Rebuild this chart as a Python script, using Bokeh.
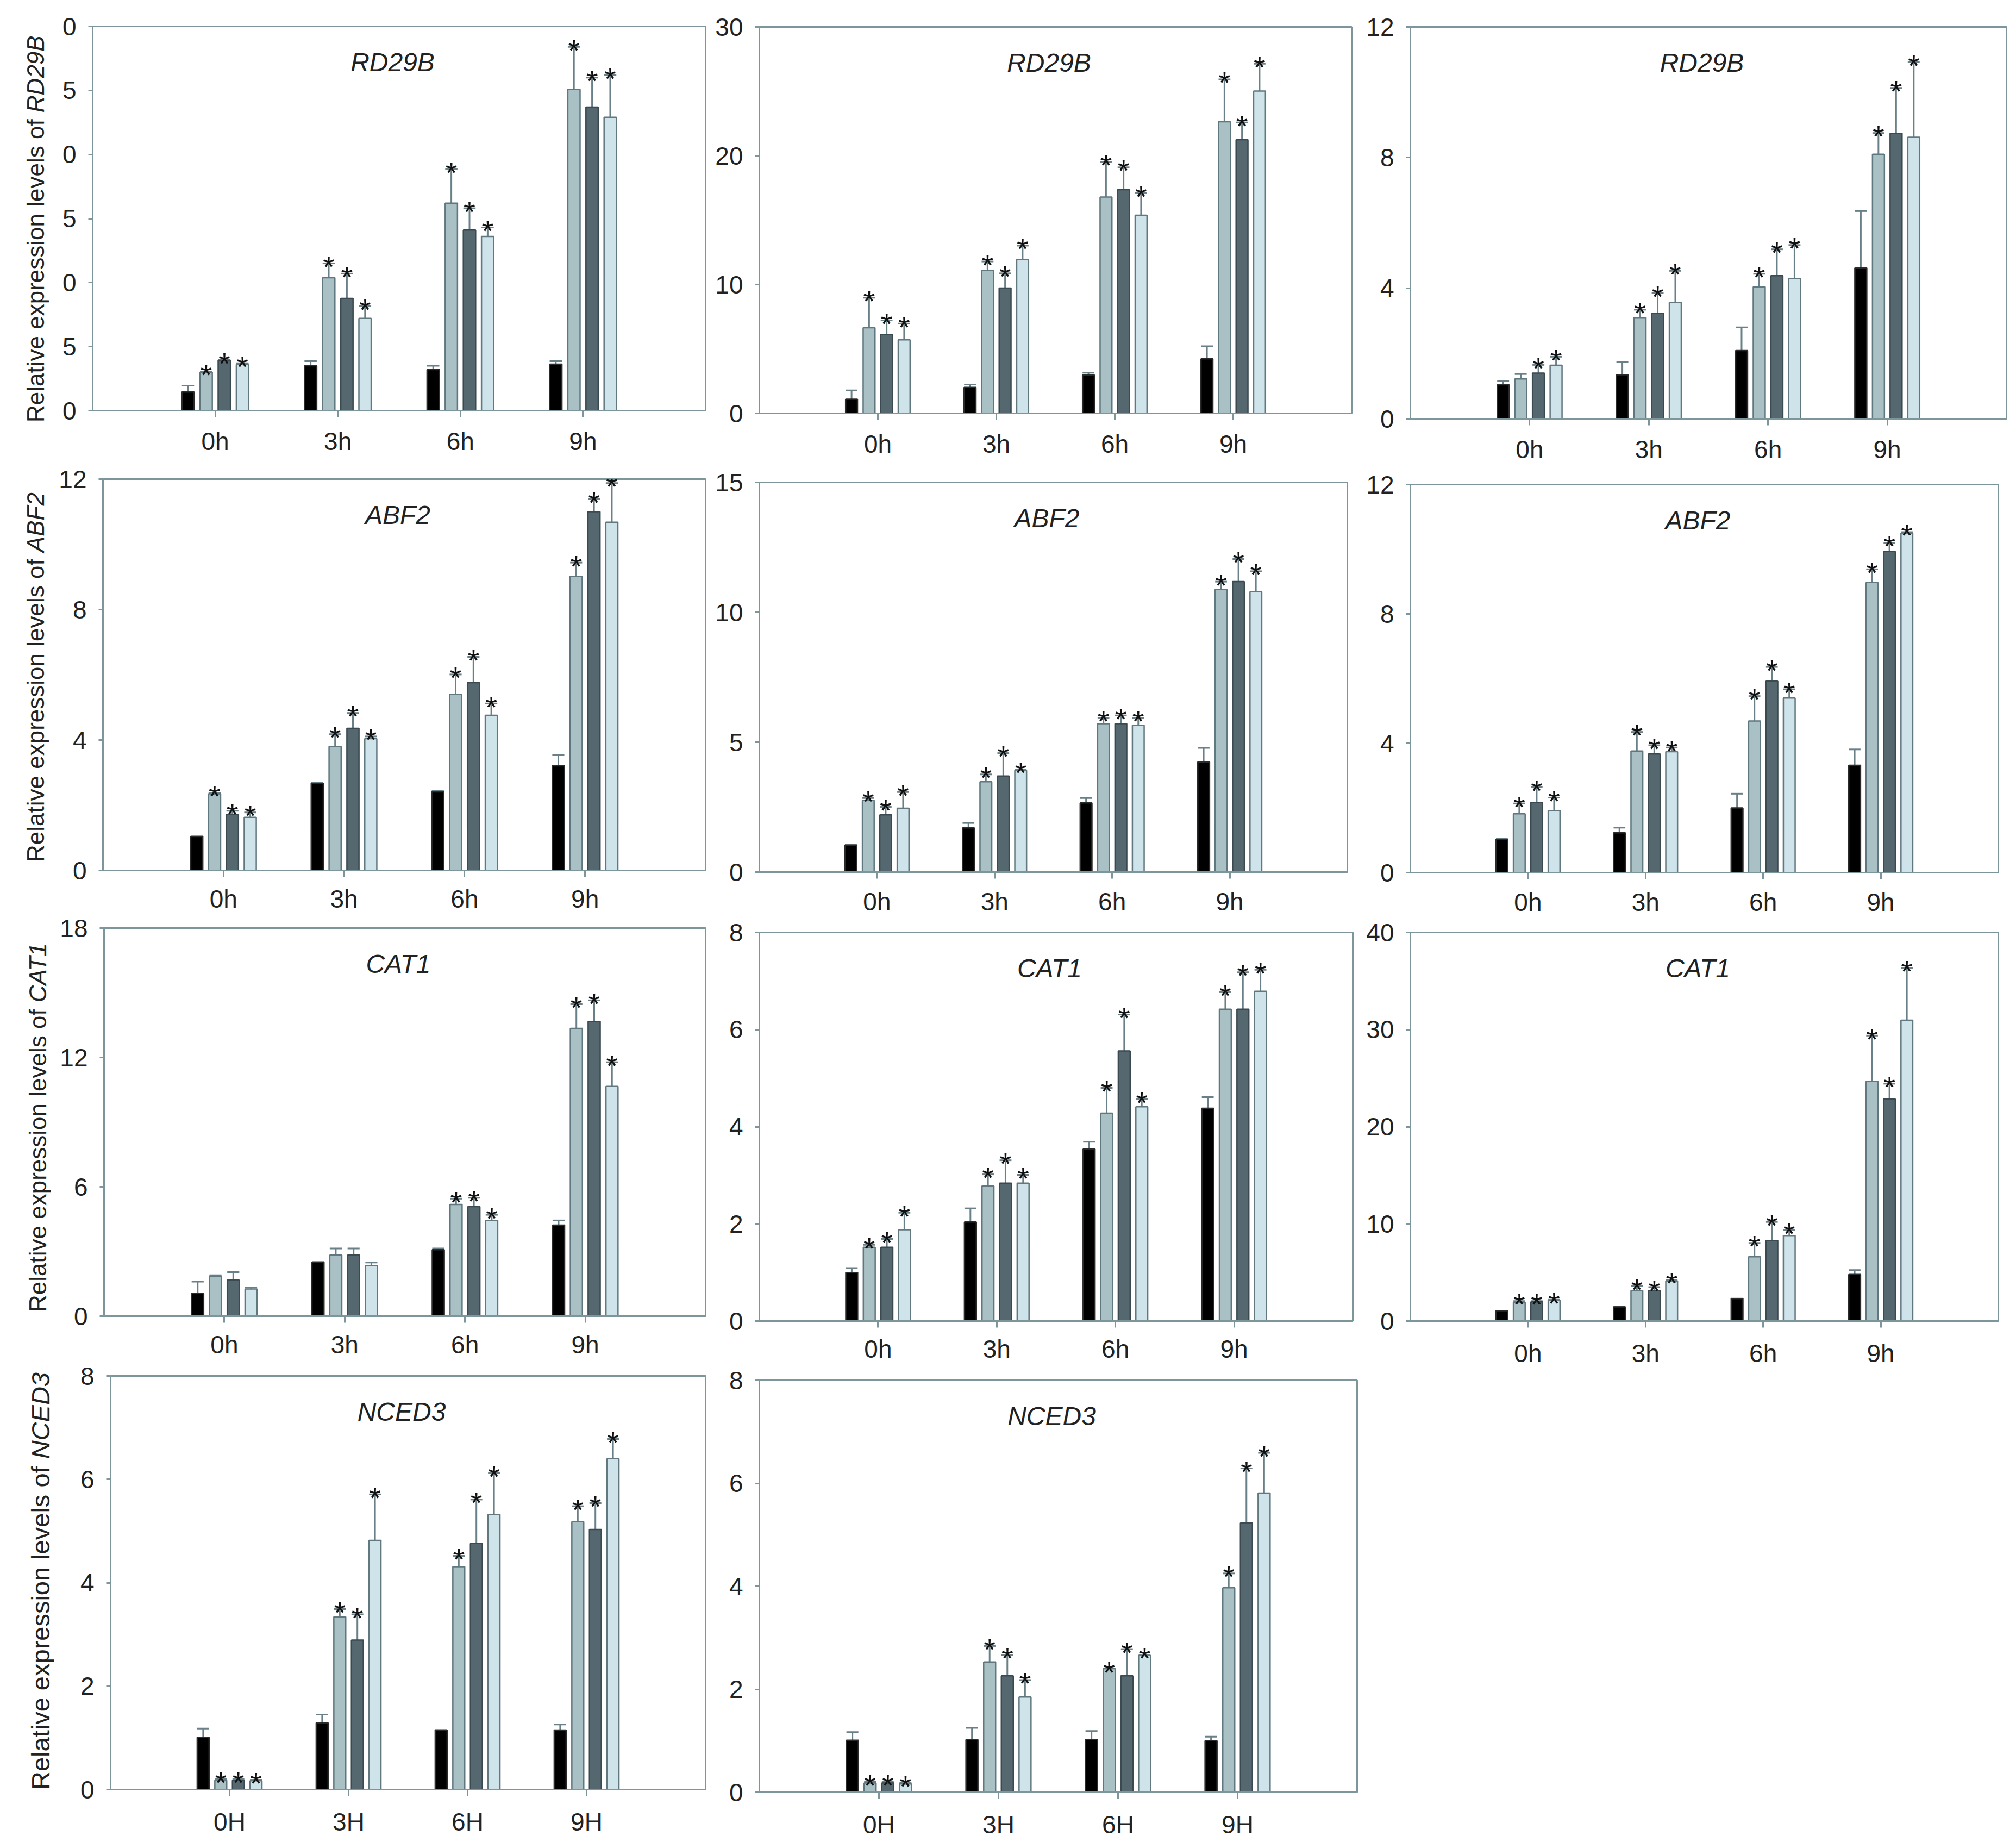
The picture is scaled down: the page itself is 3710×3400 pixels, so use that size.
from bokeh.plotting import figure
from bokeh.layouts import column, row
from bokeh.models import Range1d, FixedTicker, ColumnDataSource, Div
from bokeh.core.properties import value
from bokeh.embed import file_html
from bokeh.resources import INLINE

# 时间点
hours_lower = ["0h", "3h", "6h", "9h"]
hours_upper = ["0H", "3H", "6H", "9H"]

# 每组四个系列: 黑, 浅灰, 深灰, 淡蓝
# RD29B
rd29b_1_mean = [[1.45, 3.50, 3.20, 3.63], [3.00, 10.37, 16.20, 25.08],
                [3.93, 8.76, 14.10, 23.70], [3.60, 7.20, 13.60, 22.90]]
rd29b_1_err = [[0.50, 0.36, 0.30, 0.23], [0.05, 1.13, 2.65, 3.32],
               [0.02, 1.94, 1.70, 2.30], [0.10, 0.96, 0.70, 3.30]]
rd29b_1_yticks = [0, 5, 10, 15, 20, 25, 30]
rd29b_1_ylabels = ["0", "5", "0", "5", "0", "5", "0"]

rd29b_2_mean = [[1.10, 2.01, 2.97, 4.23], [6.65, 11.10, 16.79, 22.64],
                [6.12, 9.73, 17.36, 21.25], [5.71, 11.95, 15.38, 25.02]]
rd29b_2_err = [[0.68, 0.23, 0.18, 0.98], [2.33, 0.69, 2.74, 3.29],
               [1.10, 1.14, 1.74, 1.33], [1.26, 1.07, 1.71, 2.12]]
rd29b_2_yticks = [0, 10, 20, 30]

rd29b_3_mean = [[1.04, 1.35, 2.09, 4.62], [1.22, 3.10, 4.04, 8.10],
                [1.40, 3.23, 4.38, 8.74], [1.64, 3.56, 4.29, 8.62]]
rd29b_3_err = [[0.11, 0.39, 0.71, 1.74], [0.15, 0.24, 0.40, 0.65],
               [0.25, 0.62, 0.81, 1.39], [0.26, 0.97, 1.03, 2.30]]
rd29b_3_star = [[0, 0, 0, 0], [0, 1, 1, 1], [1, 1, 1, 1], [1, 1, 1, 1]]
rd29b_3_yticks = [0, 4, 8, 12]

# ABF2
abf2_1_mean = [[1.04, 2.67, 2.41, 3.21], [2.35, 3.80, 5.40, 9.02],
               [1.72, 4.36, 5.76, 11.00], [1.63, 4.04, 4.76, 10.68]]
abf2_1_err = [[0.00, 0.02, 0.03, 0.33], [0.03, 0.38, 0.61, 0.42],
              [0.11, 0.47, 0.79, 0.39], [0.15, 0.07, 0.36, 1.20]]
abf2_1_yticks = [0, 4, 8, 12]

abf2_2_mean = [[1.04, 1.70, 2.66, 4.24], [2.76, 3.48, 5.71, 10.88],
               [2.20, 3.70, 5.71, 11.18], [2.46, 3.91, 5.65, 10.79]]
abf2_2_err = [[0.00, 0.19, 0.19, 0.54], [0.09, 0.28, 0.23, 0.30],
              [0.31, 0.88, 0.32, 0.87], [0.62, 0.04, 0.29, 0.79]]
abf2_2_yticks = [0, 5, 10, 15]

abf2_3_mean = [[1.03, 1.23, 2.00, 3.32], [1.82, 3.76, 4.69, 8.97],
               [2.17, 3.67, 5.92, 9.93], [1.92, 3.74, 5.40, 10.50]]
abf2_3_err = [[0.03, 0.16, 0.44, 0.49], [0.32, 0.59, 0.77, 0.41],
              [0.47, 0.27, 0.44, 0.27], [0.40, 0.13, 0.27, 0.03]]
abf2_3_yticks = [0, 4, 8, 12]

# CAT1
cat1_1_mean = [[1.05, 2.51, 3.08, 4.22], [1.85, 2.83, 5.18, 13.35],
               [1.67, 2.83, 5.08, 13.67], [1.26, 2.35, 4.44, 10.66]]
cat1_1_err = [[0.55, 0.00, 0.06, 0.22], [0.05, 0.31, 0.27, 1.12],
              [0.37, 0.31, 0.41, 0.98], [0.07, 0.14, 0.26, 1.12]]
cat1_1_star = [[0, 0, 0, 0], [0, 0, 1, 1], [0, 0, 1, 1], [0, 0, 1, 1]]
cat1_1_yticks = [0, 6, 12, 18]

cat1_2_mean = [[1.00, 2.04, 3.54, 4.38], [1.52, 2.78, 4.28, 6.42],
               [1.52, 2.84, 5.56, 6.42], [1.88, 2.84, 4.41, 6.79]]
cat1_2_err = [[0.09, 0.28, 0.15, 0.23], [0.05, 0.24, 0.52, 0.35],
              [0.17, 0.47, 0.75, 0.76], [0.35, 0.17, 0.16, 0.44]]
cat1_2_yticks = [0, 2, 4, 6, 8]

cat1_3_mean = [[1.06, 1.46, 2.31, 4.80], [1.91, 3.13, 6.62, 24.67],
               [1.97, 3.13, 8.29, 22.85], [2.12, 4.13, 8.80, 30.96]]
cat1_3_err = [[0.00, 0.00, 0.00, 0.45], [0.15, 0.45, 1.42, 4.71],
              [0.09, 0.36, 1.91, 1.58], [0.08, 0.12, 0.55, 5.40]]
cat1_3_yticks = [0, 10, 20, 30, 40]

# NCED3
nced3_1_mean = [[1.01, 1.29, 1.15, 1.15], [0.18, 3.34, 4.31, 5.18],
                [0.18, 2.89, 4.76, 5.03], [0.17, 4.82, 5.32, 6.40]]
nced3_1_err = [[0.17, 0.16, 0.00, 0.11], [0.02, 0.15, 0.21, 0.30],
               [0.02, 0.50, 0.85, 0.51], [0.02, 0.89, 0.80, 0.38]]
nced3_1_yticks = [0, 2, 4, 6, 8]

nced3_2_mean = [[1.01, 1.02, 1.02, 1.00], [0.18, 2.53, 2.40, 3.97],
                [0.18, 2.26, 2.26, 5.23], [0.16, 1.85, 2.66, 5.81]]
nced3_2_err = [[0.16, 0.23, 0.17, 0.08], [0.02, 0.31, 0.00, 0.28],
               [0.02, 0.41, 0.52, 1.06], [0.02, 0.33, 0.01, 0.78]]
nced3_2_yticks = [0, 2, 4, 6, 8]

# 对照不标星, 其余全部显著
all_star = [[0, 0, 0, 0], [1, 1, 1, 1], [1, 1, 1, 1], [1, 1, 1, 1]]

FILL = ["#000000", "#a9c0c5", "#56686f", "#cfe3ea"]
EDGE = ["#2a2a2a", "#5f777e", "#3a4a50", "#62787f"]
FRAME = "#7d969c"
ERRC = "#6a8088"
FONT = "Liberation Sans"
YLAB = "Relative expression levels of"


def make_panel(gene, means, errs, stars, hours, yticks, box, ylabels=None):
    left, top, fw, fh, right, bottom = box
    ymax = yticks[-1]
    p = figure(frame_width=fw, frame_height=fh,
               min_border_left=left, min_border_top=top,
               min_border_right=right, min_border_bottom=bottom,
               x_range=Range1d(0, 5), y_range=Range1d(0, ymax),
               output_backend="svg", toolbar_location=None, tools="")
    p.grid.visible = False
    p.outline_line_color = FRAME
    p.outline_line_width = 3

    for ax in (p.xaxis[0], p.yaxis[0]):
        ax.axis_line_color = FRAME
        ax.axis_line_width = 3
        ax.major_tick_line_color = FRAME
        ax.major_tick_line_width = 3
        ax.major_tick_in = 0
        ax.minor_tick_line_color = None
        ax.major_label_text_font = FONT
        ax.major_label_text_font_size = "46px"
        ax.major_label_text_color = "#222222"

    p.xaxis.ticker = FixedTicker(ticks=[1, 2, 3, 4])
    p.xaxis.major_label_overrides = {i + 1: h for i, h in enumerate(hours)}
    p.xaxis.major_tick_out = 12
    # 留够底边空间, 不让边框被撑大
    p.xaxis.major_label_standoff = max(12, min(21, bottom - 68))

    p.yaxis.ticker = FixedTicker(ticks=yticks)
    p.yaxis.major_tick_out = 8
    p.yaxis.major_label_standoff = 22
    if ylabels:
        p.yaxis.major_label_overrides = dict(zip(yticks, ylabels))

    step, bw = 0.148, 0.1
    for k in range(4):
        xs = [g + 1 + (k - 1.5) * step for g in range(4)]
        tops = means[k]
        hi = [m + e for m, e in zip(tops, errs[k])]
        src = ColumnDataSource(dict(x=xs, top=tops, hi=hi,
                                    x0=[x - bw / 2 for x in xs],
                                    x1=[x + bw / 2 for x in xs]))
        p.segment(x0="x", y0="top", x1="x", y1="hi", source=src,
                  line_color=ERRC, line_width=3)
        p.segment(x0="x0", y0="hi", x1="x1", y1="hi", source=src,
                  line_color=ERRC, line_width=3)
        p.vbar(x="x", top="top", bottom=0, width=bw, source=src,
               fill_color=FILL[k], line_color=EDGE[k], line_width=2.5)
        sx = [x for x, s in zip(xs, stars[k]) if s]
        sy = [h for h, s in zip(hi, stars[k]) if s]
        if sx:
            p.text(x=sx, y=sy, text=["*"] * len(sx), y_offset=6,
                   text_align="center", text_baseline="alphabetic",
                   text_font=value(FONT), text_font_size="56px",
                   text_color="#111111")

    p.text(x=[2.5], y=[ymax], text=[gene], x_offset=-12, y_offset=66,
           text_align="center", text_baseline="middle",
           text_font=value(FONT), text_font_style="italic",
           text_font_size="48px", text_color="#222222")
    return p


def ylabel_div(gene, width, height, pad_top, pad_bottom, margin_left, size=44):
    # 竖排标签, 基因名斜体
    html = (
        '<div style="writing-mode:vertical-rl;transform:rotate(180deg);'
        f'box-sizing:border-box;height:{height}px;width:{size}px;'
        f'line-height:{size}px;padding-top:{pad_top}px;'
        f'padding-bottom:{pad_bottom}px;margin-left:{margin_left}px;'
        "text-align:center;white-space:nowrap;font-family:'Liberation Sans';"
        f'font-size:{size}px;color:#222222;">{YLAB} <i>{gene}</i></div>'
    )
    return Div(text=html, width=width, height=height, margin=0)


# 第一列
p1 = make_panel("RD29B", rd29b_1_mean, rd29b_1_err, all_star, hours_lower,
                rd29b_1_yticks, (80, 48, 1128, 707, 12, 86),
                ylabels=rd29b_1_ylabels)
d1 = ylabel_div("RD29B", 90, 841, 0, 1, 44)
p4 = make_panel("ABF2", abf2_1_mean, abf2_1_err, all_star, hours_lower,
                abf2_1_yticks, (99, 40, 1109, 720, 12, 82))
d4 = ylabel_div("ABF2", 90, 842, 32, 0, 44)
p7 = make_panel("CAT1", cat1_1_mean, cat1_1_err, cat1_1_star, hours_lower,
                cat1_1_yticks, (97, 24, 1107, 714, 12, 82))
d7 = ylabel_div("CAT1", 94, 820, 38, 0, 48)
p10 = make_panel("NCED3", nced3_1_mean, nced3_1_err, all_star, hours_upper,
                 nced3_1_yticks, (104, 28, 1095, 761, 12, 97))
d10 = ylabel_div("NCED3", 99, 886, 74, 0, 51, size=47)

# 第二列
p2 = make_panel("RD29B", rd29b_2_mean, rd29b_2_err, all_star, hours_lower,
                rd29b_2_yticks, (87, 49, 1090, 711, 13, 86))
p5 = make_panel("ABF2", abf2_2_mean, abf2_2_err, all_star, hours_lower,
                abf2_2_yticks, (87, 41, 1082, 717, 21, 84))
p8 = make_panel("CAT1", cat1_2_mean, cat1_2_err, all_star, hours_lower,
                cat1_2_yticks, (87, 27, 1092, 715, 11, 81))
p11 = make_panel("NCED3", nced3_2_mean, nced3_2_err, all_star, hours_upper,
                 nced3_2_yticks, (82, 28, 1100, 758, 8, 92))

# 第三列
p3 = make_panel("RD29B", rd29b_3_mean, rd29b_3_err, rd29b_3_star, hours_lower,
                rd29b_3_yticks, (91, 49, 1097, 721, 14, 86))
p6 = make_panel("ABF2", abf2_3_mean, abf2_3_err, all_star, hours_lower,
                abf2_3_yticks, (95, 35, 1082, 714, 25, 84))
p9 = make_panel("CAT1", cat1_3_mean, cat1_3_err, all_star, hours_lower,
                cat1_3_yticks, (95, 26, 1082, 715, 25, 90))

col1 = column(row(d1, p1), row(d4, p4), row(d7, p7), row(d10, p10))
col2 = column(p2, p5, p8, p11)
col3 = column(p3, p6, p9)
layout = row(col1, col2, col3)

open("out.html", "w").write(file_html(layout, INLINE))
